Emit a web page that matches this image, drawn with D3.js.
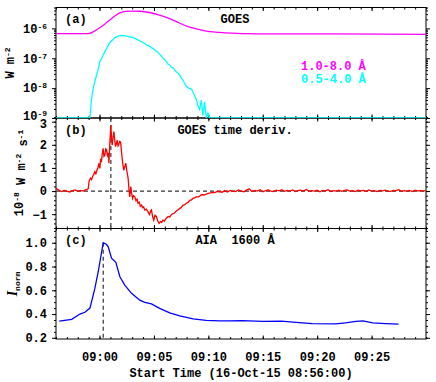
<!DOCTYPE html>
<html>
<head>
<meta charset="utf-8">
<script src="https://cdn.jsdelivr.net/npm/d3@7"></script>
<style>
  body { margin: 0; background: #fff; }
  svg text { font-family: "Liberation Mono", "DejaVu Sans Mono", monospace; font-size: 12px; font-weight: bold; fill: #000; }
</style>
</head>
<body>
<svg id="chart" width="436" height="382"></svg>
<script>
// times are minutes after 08:56:00 on 16-Oct-15
const longTime = [0, 1, 2, 3.0, 3.4, 3.7, 4.03, 4.5, 4.95, 5.4, 5.87, 6.4, 7.06, 7.7, 8.6, 9.5, 10.2, 11.1, 12.0, 12.9, 13.8, 15.0, 17.1, 20, 25, 30, 34];
const longFlux = [6.7e-7, 6.7e-7, 6.7e-7, 6.7e-7, 7.6e-7, 8.8e-7, 1.05e-6, 1.4e-6, 1.9e-6, 2.6e-6, 3.3e-6, 3.7e-6, 3.8e-6, 3.75e-6, 3.4e-6, 2.8e-6, 2.3e-6, 1.66e-6, 1.2e-6, 9.6e-7, 8.1e-7, 7.4e-7, 6.7e-7, 6.5e-7, 6.5e-7, 6.4e-7, 6.3e-7];

const shortTime = [0, 3.1, 3.16, 3.25, 3.42, 3.58, 3.73, 3.9, 4.03, 4.2, 4.34, 4.5, 4.65, 4.8, 4.95, 5.2, 5.41, 5.7, 6.02, 6.25, 6.48, 6.8, 7.09, 7.5, 8.0, 8.15, 8.3, 8.45, 8.6, 8.75, 8.92, 9.05, 9.2, 9.35, 9.5, 9.65, 9.83, 9.95, 10.1, 10.3, 10.45, 10.6, 10.75, 10.9, 11.1, 11.3, 11.52, 11.75, 11.98, 12.2, 12.44, 12.7, 12.9, 13.05, 13.2, 13.35, 13.5, 13.66, 13.81, 13.96, 14.1, 20, 34];
const shortFlux = [5e-10, 5e-10, 1.5e-9, 4e-9, 1e-8, 1.7e-8, 2.8e-8, 4.5e-8, 7.9e-8, 1.0e-7, 1.3e-7, 1.7e-7, 2.1e-7, 2.7e-7, 3.3e-7, 4.1e-7, 4.9e-7, 5.5e-7, 5.8e-7, 5.7e-7, 5.5e-7, 5.2e-7, 4.9e-7, 4.2e-7, 3.3e-7, 3.1e-7, 2.8e-7, 2.75e-7, 2.5e-7, 2.3e-7, 2.1e-7, 1.95e-7, 1.75e-7, 1.6e-7, 1.35e-7, 1.25e-7, 1.0e-7, 9.4e-8, 8.0e-8, 6.4e-8, 6.0e-8, 5.0e-8, 4.8e-8, 4.0e-8, 3.4e-8, 3.0e-8, 2.2e-8, 1.6e-8, 1.15e-8, 1.0e-8, 9.3e-9, 6e-9, 4.1e-9, 2.5e-9, 1.9e-9, 4e-9, 1.2e-9, 3.5e-9, 6e-10, 1.5e-9, 5e-10, 5e-10, 5e-10];

const derivTime = [0, 0.25, 0.5, 0.75, 1, 1.25, 1.5, 1.75, 2, 2.25, 2.5, 2.75,
  2.96, 3.05, 3.18, 3.27, 3.35, 3.45, 3.57, 3.66, 3.76, 3.85, 3.94, 4.03, 4.1, 4.17, 4.25, 4.33, 4.41, 4.49, 4.57, 4.65, 4.72, 4.77, 4.82, 4.86, 4.93, 5.04, 5.1, 5.16, 5.24, 5.32, 5.4, 5.47, 5.55, 5.62, 5.7, 5.77, 5.85, 5.93, 6.0, 6.08, 6.16, 6.23, 6.32, 6.42, 6.5, 6.63, 6.7, 6.78, 6.87, 6.95,
  7.03, 7.12, 7.24, 7.35, 7.45, 7.54, 7.65, 7.75, 7.86, 7.95, 8.05, 8.16, 8.3, 8.46, 8.6, 8.7, 8.77, 8.88, 8.98, 9.1, 9.23, 9.35, 9.47, 9.6, 9.7, 9.83, 9.95, 10.1, 10.29, 10.45, 10.6, 10.75, 10.9, 11.05, 11.2, 11.37, 11.5, 11.65, 11.8, 11.98, 12.15, 12.3, 12.45, 12.58, 12.75, 12.9, 13.05, 13.2, 13.4, 13.6, 13.81, 14.0, 14.2, 14.42, 14.6, 14.8, 15.03,
  15.25, 15.5, 15.75, 16, 16.25, 16.5, 16.75, 17, 17.25, 17.5, 17.75, 18, 18.25, 18.5, 18.75, 19, 19.25, 19.5, 19.75, 20, 20.25, 20.5, 20.75, 21, 21.25, 21.5, 21.75, 22, 22.25, 22.5, 22.75, 23, 23.25, 23.5, 23.75, 24, 24.25, 24.5, 24.75, 25, 25.25, 25.5, 25.75, 26, 26.25, 26.5, 26.75, 27, 27.25, 27.5, 27.75, 28, 28.25, 28.5, 28.75, 29, 29.25, 29.5, 29.75, 30, 30.25, 30.5, 30.75, 31, 31.25, 31.5, 31.75, 32, 32.25, 32.5, 32.75, 33, 33.25, 33.5, 33.75, 34];
const deriv = [0.12, 0.04, -0.02, 0.03, 0.0, -0.04, 0.02, 0.05, -0.01, 0.03, 0.0, 0.06,
  0.1, 0.45, 0.56, 0.5, 0.62, 0.7, 0.84, 0.75, 0.9, 1.0, 1.2, 0.98, 1.4, 1.25, 1.6, 1.85, 1.5, 1.56, 1.82, 1.77, 1.55, 1.5, 1.65, 1.2, 1.9, 2.86, 2.3, 1.99, 2.3, 2.57, 2.2, 1.92, 2.05, 2.2, 1.95, 2.0, 2.15, 2.13, 1.8, 1.41, 1.1, 0.9, 1.05, 1.2, 0.9, 0.55, 0.1, -0.25, 0.19, -0.1,
  -0.32, -0.2, -0.25, -0.42, -0.35, -0.53, -0.48, -0.66, -0.6, -0.72, -0.68, -0.82, -0.78, -0.9, -1.02, -0.86, -0.82, -1.1, -1.26, -1.05, -1.11, -1.3, -1.4, -1.32, -1.36, -1.26, -1.3, -1.2, -1.11, -1.12, -1.02, -0.97, -0.95, -0.86, -0.82, -0.75, -0.72, -0.62, -0.6, -0.53, -0.48, -0.4, -0.38, -0.32, -0.3, -0.24, -0.26, -0.22, -0.15, -0.17, -0.13, -0.1, -0.08, -0.06, -0.07, -0.02, -0.03,
  -0.05, 0.02, -0.04, 0.03, 0.0, -0.02, 0.05, 0.01, -0.03, 0.04, 0.1, -0.02, 0.03, 0.0, 0.06, -0.03, 0.02, 0.05, 0.0, -0.02, 0.04, 0.01, 0.06, -0.01, 0.03, 0.0, 0.05, -0.02, 0.02, 0.04, 0.0, 0.07, -0.01, 0.02, 0.0, 0.04, -0.03, 0.03, 0.01, 0.06, -0.02, 0.02, 0.0, 0.04, -0.01, 0.03, 0.05, 0.0, 0.02, -0.02, 0.04, 0.01, 0.03, -0.01, 0.05, 0.0, 0.02, -0.02, 0.03, 0.01, 0.04, 0.0, -0.01, 0.03, 0.02, 0.06, -0.01, 0.02, 0.0, 0.03, -0.02, 0.04, 0.01, 0.02, 0.0, 0.03];

const aiaTime = [0.3, 1.44, 2.2, 2.66, 3.12, 3.57, 3.88, 4.34, 4.65, 4.8, 5.1, 5.5, 5.87, 6.32, 6.94, 7.7, 8.16, 8.77, 9.53, 10.45, 11.37, 12.6, 13.8, 15.03, 15.95, 17.1, 19, 20.7, 22.06, 23.55, 25.7, 26.6, 27.55, 28.2, 29.1, 30.3, 31.47];
const aiaNorm = [0.34, 0.355, 0.40, 0.415, 0.45, 0.616, 0.756, 1.0, 0.985, 0.966, 0.87, 0.835, 0.714, 0.644, 0.574, 0.517, 0.498, 0.486, 0.448, 0.41, 0.385, 0.36, 0.346, 0.343, 0.343, 0.345, 0.338, 0.34, 0.33, 0.32, 0.318, 0.325, 0.338, 0.343, 0.326, 0.32, 0.315];

const derivPeakTime = 5.04;
const aiaPeakTime = 4.34;
const timeTicks = ["09:00", "09:05", "09:10", "09:15", "09:20", "09:25"];

const svg = d3.select("#chart");
const start = new Date(2015, 9, 16, 8, 56, 0);
const toDate = m => new Date(start.getTime() + m * 60000);
const parse = d3.timeParse("%Y-%m-%d %H:%M");

const left = 56, right = 426;
const panels = [[7.5, 118], [118, 228.5], [228.5, 339]];

const x = d3.scaleTime().domain([start, toDate(34)]).range([left, right]);
const yA = d3.scaleLog().domain([1e-9, 5e-6]).range([panels[0][1], panels[0][0]]);
const yAc = yA.copy().clamp(true);
const yB = d3.scaleLinear().domain([-1.62, 3.16]).range([panels[1][1], panels[1][0]]);
const yC = d3.scaleLinear().domain([0.19, 1.12]).range([panels[2][1], panels[2][0]]);

const majorX = timeTicks.map(s => parse("2015-10-16 " + s));
const minorX = d3.timeMinute.range(toDate(0), toDate(34.01));

// clip paths
const defs = svg.append("defs");
panels.forEach((p, i) => {
  defs.append("clipPath").attr("id", "clip" + i)
    .append("rect").attr("x", left).attr("y", p[0]).attr("width", right - left).attr("height", p[1] - p[0]);
});

function drawLine(i, times, vals, yScale, color, curve) {
  const line = d3.line()
    .x((d, k) => x(toDate(times[k])))
    .y(d => yScale(d))
    .curve(curve || d3.curveLinear);
  svg.append("path")
    .datum(vals)
    .attr("clip-path", `url(#clip${i})`)
    .attr("fill", "none")
    .attr("stroke", color)
    .attr("stroke-width", 1.3)
    .attr("d", line);
}

// frames + x ticks
panels.forEach((p, i) => {
  svg.append("rect").attr("x", left).attr("y", p[0]).attr("width", right - left).attr("height", p[1] - p[0])
    .attr("fill", "none").attr("stroke", "#000").attr("stroke-width", 1);
  [[p[1], 1], [p[0], -1]].forEach(([yy, dir]) => {
    const ax = dir > 0 ? d3.axisBottom(x) : d3.axisTop(x);
    svg.append("g").attr("transform", `translate(0,${yy})`)
      .call(ax.tickValues(minorX).tickSize(-2).tickSizeOuter(0).tickFormat(""))
      .call(g => g.select(".domain").remove());
    svg.append("g").attr("transform", `translate(0,${yy})`)
      .call(ax.tickValues(majorX).tickSize(-3.5).tickSizeOuter(0).tickFormat(""))
      .call(g => g.select(".domain").remove());
  });
});

// x tick labels on bottom panel
svg.append("g").attr("transform", `translate(0,${panels[2][1]})`)
  .call(d3.axisBottom(x).tickValues(majorX).tickSize(0).tickPadding(13).tickFormat(d3.timeFormat("%H:%M")))
  .call(g => g.select(".domain").remove())
  .call(g => g.selectAll("text").attr("font-family", null).attr("font-size", null));

function yAxes(scale, major, minor, fmt) {
  svg.append("g").attr("transform", `translate(${left},0)`)
    .call(d3.axisLeft(scale).tickValues(minor).tickSize(2).tickSizeOuter(0).tickFormat(""))
    .call(g => g.select(".domain").remove());
  const gl = svg.append("g").attr("transform", `translate(${left},0)`)
    .call(d3.axisLeft(scale).tickValues(major).tickSize(4).tickPadding(5).tickSizeOuter(0).tickFormat(fmt))
    .call(g => g.select(".domain").remove())
    .call(g => g.selectAll("text").attr("font-family", null).attr("font-size", null));
  svg.append("g").attr("transform", `translate(${right},0)`)
    .call(d3.axisRight(scale).tickValues(minor).tickSize(2).tickSizeOuter(0).tickFormat(""))
    .call(g => g.select(".domain").remove());
  svg.append("g").attr("transform", `translate(${right},0)`)
    .call(d3.axisRight(scale).tickValues(major).tickSize(4).tickSizeOuter(0).tickFormat(""))
    .call(g => g.select(".domain").remove());
  return gl;
}

// panel (a) log axis
const decadesA = [1e-9, 1e-8, 1e-7, 1e-6];
const minorA = [];
decadesA.forEach(d => { for (let k = 2; k <= 9; k++) if (d * k <= 5e-6) minorA.push(d * k); });
const gA = yAxes(yA, decadesA, minorA, "");
gA.selectAll(".tick text").each(function(d) {
  const t = d3.select(this);
  if (d === 1e-9) t.attr("y", -2);
  t.append("tspan").text("10");
  t.append("tspan").attr("dy", "-0.5em").attr("font-size", "8px").text("-" + Math.round(-Math.log10(d)));
});

const gB = yAxes(yB, [-1, 0, 1, 2, 3], d3.range(-1.6, 3.2, 0.2).map(v => +v.toFixed(1)), d3.format("d"));
gB.selectAll(".tick text").filter(d => d === 3).attr("y", 2);
yAxes(yC, [0.2, 0.4, 0.6, 0.8, 1.0], d3.range(0.2, 1.12, 0.05).map(v => +v.toFixed(2)), d3.format(".1f"));

// reference lines in (b) and (c)
svg.append("line").attr("x1", left).attr("x2", right).attr("y1", yB(0)).attr("y2", yB(0))
  .attr("stroke", "#333").attr("stroke-width", 1.2).attr("stroke-dasharray", "4,3");
svg.append("line").attr("x1", x(toDate(derivPeakTime))).attr("x2", x(toDate(derivPeakTime)))
  .attr("y1", panels[1][0]).attr("y2", panels[1][1])
  .attr("stroke", "#333").attr("stroke-width", 1.2).attr("stroke-dasharray", "4,3");
svg.append("line").attr("x1", x(toDate(aiaPeakTime))).attr("x2", x(toDate(aiaPeakTime)))
  .attr("y1", yC(1.0)).attr("y2", panels[2][1])
  .attr("stroke", "#333").attr("stroke-width", 1.2).attr("stroke-dasharray", "4,3");

// data
drawLine(0, longTime, longFlux, yA, "#ff00ff", d3.curveMonotoneX);
drawLine(0, shortTime, shortFlux, yAc, "#00ffff");
drawLine(1, derivTime, deriv, yB, "#ff0000");
drawLine(2, aiaTime, aiaNorm, yC, "#0000ff");

// labels
const labels = [
  ["(a)", "GOES"], ["(b)", "GOES time deriv."], ["(c)", "AIA  1600 Å"]
];
labels.forEach((l, i) => {
  svg.append("text").attr("x", 65).attr("y", panels[i][0] + 15.5).text(l[0]);
  svg.append("text").attr("x", 235).attr("y", panels[i][0] + 15.5).attr("text-anchor", "middle")
    .style("white-space", "pre").text(l[1]);
});
svg.append("text").attr("x", 301).attr("y", 70).style("fill", "#ff00ff").text("1.0-8.0 Å");
svg.append("text").attr("x", 301).attr("y", 83).style("fill", "#00ffff").text("0.5-4.0 Å");

// axis titles
const tA = svg.append("text").attr("transform", "translate(14,63) rotate(-90)").attr("text-anchor", "middle");
tA.append("tspan").text("W m");
tA.append("tspan").attr("dy", "-0.5em").attr("font-size", "8px").text("-2");

const tB = svg.append("text").attr("transform", "translate(23,173) rotate(-90)").attr("text-anchor", "middle");
[["10", 0], ["-8", 1], [" W m", 0], ["-2", 1], [" s", 0], ["-1", 1]].forEach(([s, sup], k, arr) => {
  const prev = k > 0 ? arr[k - 1][1] : 0;
  const dy = sup === prev ? 0 : (sup ? "-0.5em" : "0.5em");
  tB.append("tspan").attr("dy", dy).attr("font-size", sup ? "8px" : null).style("white-space", "pre").text(s);
});

const tC = svg.append("text").attr("transform", "translate(17,284) rotate(-90)").attr("text-anchor", "middle");
tC.append("tspan").attr("font-style", "italic").attr("font-family", "Liberation Serif").attr("font-size", "14px").text("I");
tC.append("tspan").attr("dy", "0.4em").attr("font-size", "8px").text("norm");

svg.append("text").attr("x", (left + right) / 2).attr("y", 377).attr("text-anchor", "middle")
  .text("Start Time (16-Oct-15 08:56:00)");
</script>
</body>
</html>
